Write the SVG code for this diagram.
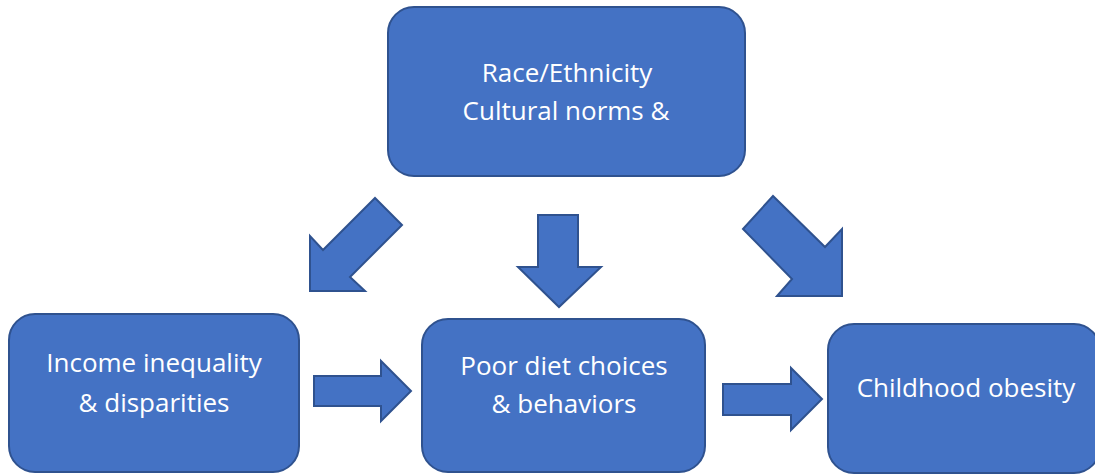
<svg xmlns="http://www.w3.org/2000/svg" width="1095" height="474" viewBox="0 0 1095 474">
<style>
.box{fill:#4472C4;stroke:#2F528F;stroke-width:2}
.arr{fill:#4472C4;stroke:#2F528F;stroke-width:2;stroke-linejoin:miter}
.t{font-family:"Open Sans","Liberation Sans",sans-serif;font-size:26px;fill:#FFFFFF;text-anchor:middle}
</style>
<rect width="1095" height="474" fill="#FFFFFF"/>
<g id="race">
<rect class="box" x="388" y="7" width="357" height="169" rx="26" ry="26"/>
<text class="t" x="567" y="82">Race/Ethnicity</text>
<text class="t" x="566" y="120">Cultural norms &amp;</text>
</g>
<g id="income">
<rect class="box" x="9" y="314" width="290" height="158" rx="26" ry="26"/>
<text class="t" x="154" y="372">Income inequality</text>
<text class="t" x="154" y="412">&amp; disparities</text>
</g>
<g id="diet">
<rect class="box" x="422" y="319" width="283" height="153" rx="26" ry="26"/>
<text class="t" x="564" y="375">Poor diet choices</text>
<text class="t" x="564" y="413">&amp; behaviors</text>
</g>
<g id="obesity">
<rect class="box" x="828" y="324" width="272" height="149" rx="26" ry="26"/>
<text class="t" x="966" y="397">Childhood obesity</text>
</g>
<g id="connectors">
<polygon class="arr" points="310,291 310,236 323,250 375,198 402,225 350,277 365,291"/>
<polygon class="arr" points="538,215 578,215 578,267 601,267 559,307 518,267 538,267"/>
<polygon class="arr" points="743,229 773,196 825,247 842,229 842,296 777,296 792,279"/>
<polygon class="arr" points="314,376 381,376 381,361 411,391 381,421 381,406 314,406"/>
<polygon class="arr" points="723,384 791,384 791,368 822,399 791,430 791,415 723,415"/>
</g>
</svg>
